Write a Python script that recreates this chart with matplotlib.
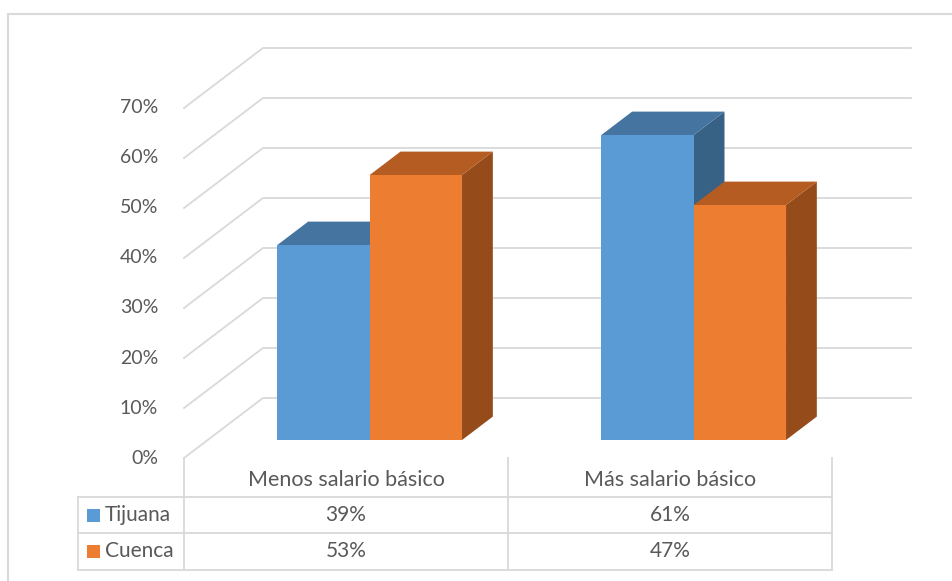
import matplotlib.pyplot as plt
from matplotlib.patches import Polygon, Rectangle

# Datos
categorias = ["Menos salario básico", "Más salario básico"]
series = ["Tijuana", "Cuenca"]
tijuana = [39, 61]
cuenca = [53, 47]
ticks = [0, 10, 20, 30, 40, 50, 60, 70]

COLORES = {
    "Tijuana": ("#5B9BD5", "#4674A0", "#386186"),
    "Cuenca": ("#ED7D31", "#B45C21", "#964B1B"),
}
GRIS = "#D9D9D9"
TEXTO = "#595959"

plt.rcParams["font.family"] = ["Lato", "DejaVu Sans"]


def desplazar(f):
    # desplazamiento en profundidad (f=0 frente, f=1 pared del fondo)
    return f * 0.2438, f * 12.0


def barra(ax, x0, ancho, valor, colores, f0=0.3, f1=0.69):
    frente, tope, lado = colores
    dx0, dy0 = desplazar(f0)
    dx1, dy1 = desplazar(f1)
    xa, xb = x0 + dx0, x0 + ancho + dx0
    ya, yb = dy0, valor + dy0
    ax.add_patch(Polygon([(xb, ya), (xb + dx1 - dx0, ya + dy1 - dy0),
                          (xb + dx1 - dx0, yb + dy1 - dy0), (xb, yb)],
                         closed=True, fc=lado, ec="none", zorder=3))
    ax.add_patch(Polygon([(xa, yb), (xa + dx1 - dx0, yb + dy1 - dy0),
                          (xb + dx1 - dx0, yb + dy1 - dy0), (xb, yb)],
                         closed=True, fc=tope, ec="none", zorder=3))
    ax.add_patch(Rectangle((xa, ya), ancho, valor, fc=frente, ec="none", zorder=3))


def main():
    fig = plt.figure(figsize=(9.52, 5.81), dpi=100)
    ax = fig.add_axes([0, 0, 1, 1])
    ax.set_xlim(-0.5679, 2.3704)
    ax.set_ylim(-24.6, 91.6)
    ax.axis("off")

    # Borde del grafico
    fig.patches.append(Rectangle((8 / 952, -0.2), 1.2, 1.2 - 14 / 581,
                                 transform=fig.transFigure, fill=False,
                                 ec=GRIS, lw=1.5))

    # Lineas de division (pared lateral y fondo)
    DX, DY = desplazar(1.0)
    n = len(categorias)
    for p in ticks:
        ax.plot([0, DX, n + DX], [p, p + DY, p + DY], color=GRIS, lw=1.3, zorder=1)
        ax.text(-0.08, p, f"{p}%", ha="right", va="center", fontsize=14, color=TEXTO)

    # Barras
    ancho = 0.285
    for i in range(n):
        barra(ax, i + 0.5 - ancho, ancho, tijuana[i], COLORES["Tijuana"])
        barra(ax, i + 0.5, ancho, cuenca[i], COLORES["Cuenca"])

    # Tabla de datos
    x_izq = -0.327
    filas = [-7.8, -15.0, -22.4]
    for y in filas:
        ax.plot([x_izq, n], [y, y], color=GRIS, lw=1.3, zorder=1)
    ax.plot([x_izq, x_izq], [filas[0], filas[-1]], color=GRIS, lw=1.3, zorder=1)
    for i in range(n + 1):
        ax.plot([i, i], [0, filas[-1]], color=GRIS, lw=1.3, zorder=1)

    for i, cat in enumerate(categorias):
        ax.text(i + 0.5, -4.4, cat, ha="center", va="center", fontsize=15.5, color=TEXTO)
        ax.text(i + 0.5, -11.4, f"{tijuana[i]}%", ha="center", va="center",
                fontsize=15, color=TEXTO)
        ax.text(i + 0.5, -18.6, f"{cuenca[i]}%", ha="center", va="center",
                fontsize=15, color=TEXTO)

    for nombre, y in zip(series, [-11.4, -18.6]):
        ax.add_patch(Rectangle((-0.2994, y - 1.3), 0.04, 2.6,
                               fc=COLORES[nombre][0], ec="none", zorder=3))
        ax.text(-0.245, y, nombre, ha="left", va="center", fontsize=15, color=TEXTO)

    fig.savefig("out.png", dpi=100)
    return 0


if __name__ == "__main__":
    main()
